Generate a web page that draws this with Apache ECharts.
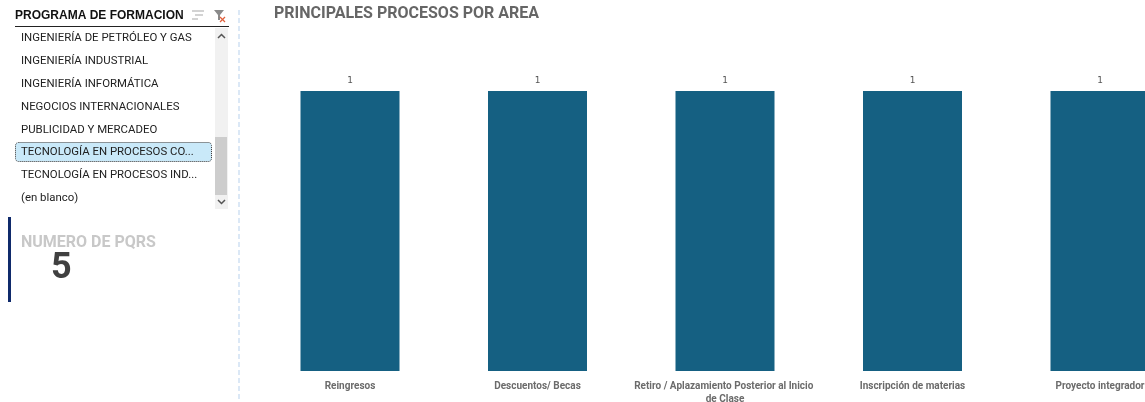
<!DOCTYPE html>
<html>
<head>
<meta charset="utf-8">
<style>html,body{margin:0;padding:0;background:#fff;overflow:hidden;width:1145px;height:402px}#c{width:1200px;height:402px}</style>
<script src="https://cdn.jsdelivr.net/npm/echarts@6/dist/echarts.min.js"></script>
</head>
<body>
<div id="c"></div>
<script>
const categories = ['Reingresos', 'Descuentos/ Becas', 'Retiro / Aplazamiento Posterior al Inicio de Clase', 'Inscripción de materias', 'Proyecto integrador'];
const values = [1, 1, 1, 1, 1];
const slicerTitle = 'PROGRAMA DE FORMACION';
const slicerItems = ['INGENIERÍA DE PETRÓLEO Y GAS', 'INGENIERÍA INDUSTRIAL', 'INGENIERÍA INFORMÁTICA', 'NEGOCIOS INTERNACIONALES', 'PUBLICIDAD Y MERCADEO', 'TECNOLOGÍA EN PROCESOS CO...', 'TECNOLOGÍA EN PROCESOS IND...', '(en blanco)'];
const slicerRowsY = [38, 61, 84, 107, 130, 152, 175, 198];
const kpiTitle = 'NUMERO DE PQRS';
const kpiValue = '5';
const chartTitle = 'PRINCIPALES PROCESOS POR AREA';

const chart = echarts.init(document.getElementById('c'), null, {renderer: 'canvas'});
const g = [];
// divider
g.push({type:'line', shape:{x1:239,y1:10,x2:239,y2:402}, style:{stroke:'#dbe8f6', lineWidth:2, lineDash:[5,3]}});
// slicer header
g.push({type:'text', style:{x:15,y:15.5,text:slicerTitle,font:'bold 12px "Liberation Sans"',fill:'#111',verticalAlign:'middle'}});
g.push({type:'line', shape:{x1:15,y1:26.5,x2:229,y2:26.5}, style:{stroke:'#222', lineWidth:1}});
// header icons
[[189,11,15],[192,15,11],[189,19,9]].forEach(r=>g.push({type:'line',shape:{x1:r[0]+3,y1:r[1],x2:r[0]+r[2],y2:r[1]},style:{stroke:'#c4c4c4',lineWidth:1.5}}));
g.push({type:'polygon',shape:{points:[[214,10],[224,10],[220,15],[220,20],[218,20],[218,15]]},style:{fill:'#8a8a8a'}});
g.push({type:'line',shape:{x1:220,y1:17,x2:225,y2:22},style:{stroke:'#e0603c',lineWidth:1.2}});
g.push({type:'line',shape:{x1:225,y1:17,x2:220,y2:22},style:{stroke:'#e0603c',lineWidth:1.2}});
// scrollbar
g.push({type:'rect',shape:{x:215,y:28,width:13,height:181},style:{fill:'#f1f1f1'}});
g.push({type:'rect',shape:{x:215,y:137,width:12,height:58},style:{fill:'#cdcdcd'}});
g.push({type:'polyline',shape:{points:[[218,38],[221.5,34.5],[225,38]]},style:{stroke:'#555',fill:'none',lineWidth:1.5}});
g.push({type:'polyline',shape:{points:[[218,200],[221.5,203.5],[225,200]]},style:{stroke:'#555',fill:'none',lineWidth:1.5}});
// selected row
g.push({type:'rect',shape:{x:15.5,y:142.5,width:196,height:19,r:3},style:{fill:'#c9e9f9',stroke:'#333',lineWidth:1,lineDash:[1,1]}});
slicerItems.forEach((t,i)=>g.push({type:'text',style:{x:21,y:slicerRowsY[i]+0.5,text:t,font:'400 11.4px Roboto',fill:'#222',verticalAlign:'middle'}}));
// KPI
g.push({type:'rect',shape:{x:8,y:217,width:3,height:85},style:{fill:'#0f2a6b'}});
g.push({type:'text',style:{x:21,y:243,text:kpiTitle,font:'bold 16px Roboto',fill:'#c8c8c8',verticalAlign:'middle'}});
g.push({type:'text',style:{x:51,y:269,text:kpiValue,font:'bold 36px Roboto',fill:'#404040',verticalAlign:'middle'}});

chart.setOption({
  animation:false,
  backgroundColor:'#fff',
  title:{text:chartTitle,left:269,top:1,textStyle:{fontFamily:'Roboto',fontSize:16,fontWeight:'bold',color:'#666'}},
  grid:{left:256.25,width:937.5,top:91,height:280,containLabel:false,outerBoundsMode:'none'},
  xAxis:{type:'category',data:categories,axisLine:{show:false},axisTick:{show:false},
    axisLabel:{interval:0,margin:9,width:185,overflow:'break',fontFamily:'Roboto',fontSize:10,fontWeight:'bold',color:'#6b6b6b',lineHeight:13}},
  yAxis:{type:'value',min:0,max:1,show:false,splitLine:{show:false}},
  series:[{type:'bar',data:values,barWidth:99,itemStyle:{color:'#156082'},
    label:{show:true,position:'top',distance:6,fontFamily:'DejaVu Sans',fontSize:9,color:'#555'},silent:true}],
  graphic:g
});
</script>
</body>
</html>
